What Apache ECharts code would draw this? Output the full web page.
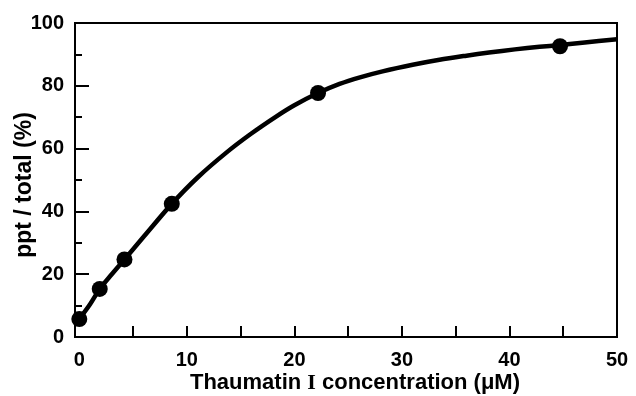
<!DOCTYPE html>
<html>
<head>
<meta charset="utf-8">
<style>html,body{margin:0;padding:0;background:#fff;}#c{width:636px;height:396px;}</style>
<script src="https://cdn.jsdelivr.net/npm/echarts@6/dist/echarts.min.js"></script>
</head>
<body>
<div id="c"></div>
<script>
// Measured data points
const pointX = [0, 1.9, 4.2, 8.6, 22.2, 44.7];
const pointY = [5.7, 15.3, 24.7, 42.4, 77.7, 92.6];
// Fitted curve
const curveX = [0, 1, 1.9, 3, 4.2, 6, 8.6, 11, 13.7, 16, 18.3, 20, 22.2, 24.2, 26.1, 28.2, 31, 33.5, 36, 38.1, 40.5, 42.8, 44.7, 47, 50];
const curveY = [5.7, 10.4, 15.3, 19.9, 24.7, 32, 42.4, 50.8, 58.8, 64.8, 70.2, 73.8, 77.7, 80.6, 82.7, 84.6, 86.7, 88.3, 89.6, 90.6, 91.6, 92.4, 93.0, 93.8, 94.8];
const xLabelValues = [0, 10, 20, 30, 40, 50];
const xTickValues = [5, 10, 15, 20, 25, 30, 35, 40, 45];
const xName = '{a|Thaumatin }{b|I}{a| concentration (μM)}';
const yName = 'ppt / total (%)';

const font = '"Liberation Sans", Arial, Helvetica, sans-serif';
const chart = echarts.init(document.getElementById('c'), null, {renderer: 'canvas'});
chart.setOption({
  animation: false,
  backgroundColor: '#fff',
  grid: {left: 75, right: 19, top: 23, bottom: 59, containLabel: false, outerBoundsMode: 'none', show: true, borderColor: '#000', borderWidth: 2, backgroundColor: 'transparent'},
  xAxis: {
    type: 'value', min: -0.4, max: 50,
    name: xName, nameLocation: 'middle', nameGap: 35, nameMoveOverlap: false,
    nameTextStyle: {
      fontFamily: font, fontWeight: 'bold', fontSize: 22, color: '#000', padding: [0, 0, 0, 18],
      rich: {
        a: {fontFamily: font, fontWeight: 'bold', fontSize: 22, color: '#000'},
        b: {fontFamily: '"Liberation Serif", "Times New Roman", serif', fontWeight: 'bold', fontSize: 22, color: '#000'}
      }
    },
    axisLine: {show: true, onZero: false, lineStyle: {color: '#000', width: 2}},
    axisTick: {show: true, inside: true, length: 11, lineStyle: {color: '#000', width: 2}, customValues: xTickValues},
    axisLabel: {customValues: xLabelValues, fontFamily: font, fontWeight: 'bold', fontSize: 20, color: '#000', margin: 13},
    splitLine: {show: false}
  },
  yAxis: {
    type: 'value', min: 0, max: 100, interval: 20,
    name: yName, nameLocation: 'middle', nameGap: 39, nameRotate: 90, nameMoveOverlap: false,
    nameTextStyle: {fontFamily: font, fontWeight: 'bold', fontSize: 23, color: '#000', padding: [0, 10, 0, 0]},
    axisLine: {show: true, onZero: false, lineStyle: {color: '#000', width: 2}},
    axisTick: {show: true, inside: true, length: 14, lineStyle: {color: '#000', width: 2}},
    minorTick: {show: true, splitNumber: 2, length: 7, lineStyle: {color: '#000', width: 2}},
    axisLabel: {fontFamily: font, fontWeight: 'bold', fontSize: 20, color: '#000', margin: 11},
    splitLine: {show: false}
  },
  series: [
    {
      type: 'line',
      data: curveX.map((x, i) => [x, curveY[i]]),
      smooth: 0.3,
      showSymbol: false,
      lineStyle: {color: '#000', width: 4.5},
      z: 2
    },
    {
      type: 'scatter',
      data: pointX.map((x, i) => [x, pointY[i]]),
      symbol: 'circle',
      symbolSize: 16,
      itemStyle: {color: '#000', opacity: 1},
      z: 3
    }
  ]
});
</script>
</body>
</html>
